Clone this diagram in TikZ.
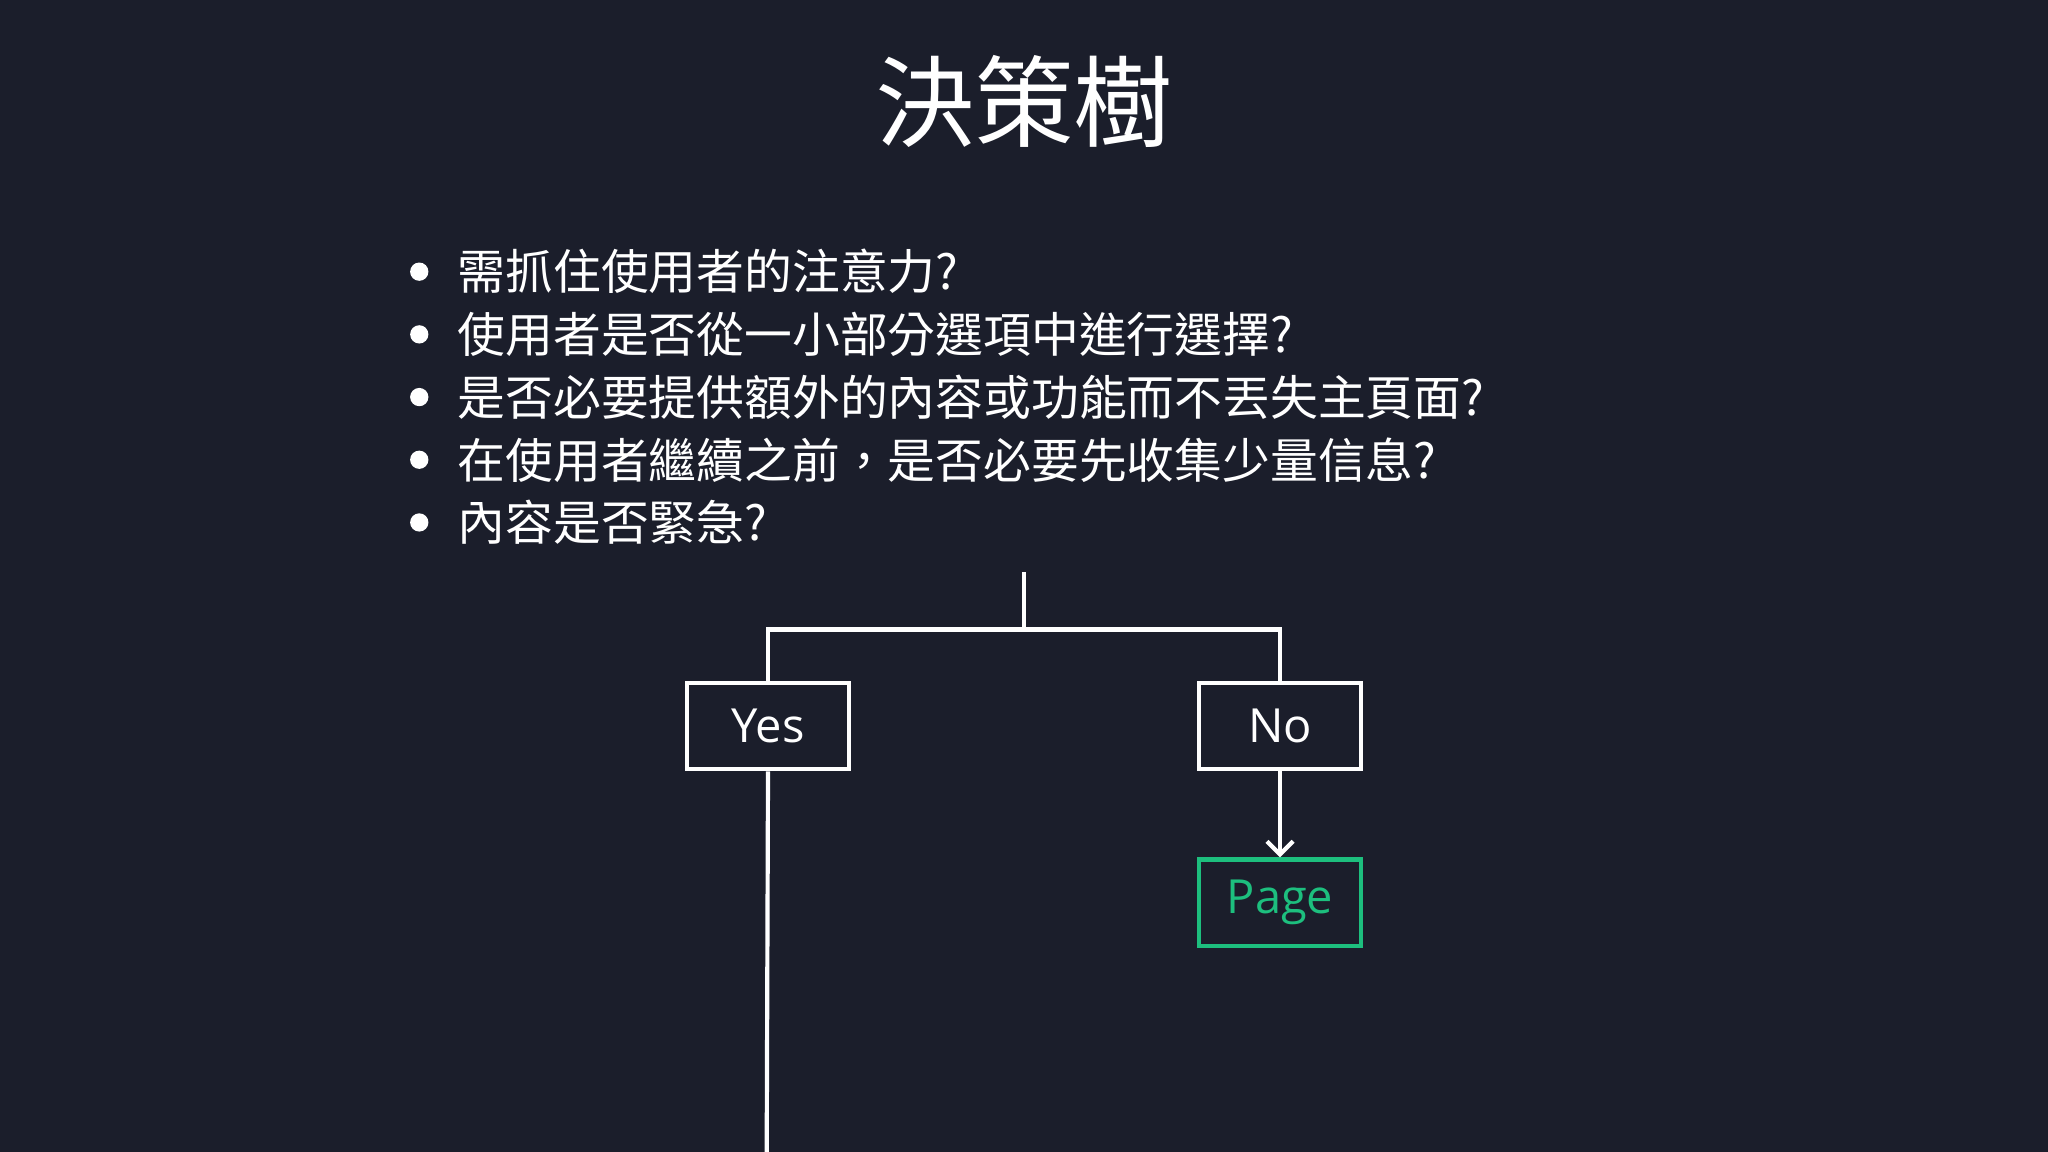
\documentclass[tikz,border=0pt]{standalone}
\usepackage{fontspec}
\setmainfont{Open Sans}
\newfontfamily\cjk{Noto Sans CJK TC}
\usetikzlibrary{arrows.meta}
\definecolor{bg}{HTML}{1B1E2B}
\definecolor{grn}{HTML}{1DBF7E}
\tikzset{
  box/.style={draw=white,line width=1.6pt,minimum width=62pt,minimum height=33pt,inner sep=0pt,text=white,font=\fontsize{18}{20}\selectfont},
  conn/.style={white,line width=1.6pt},
  bul/.style={anchor=west,text=white,font=\cjk\fontsize{18.3}{20}\selectfont,inner sep=0pt}
}
\begin{document}
\begin{tikzpicture}[x=0.5pt,y=-0.5pt]
\fill[bg] (0,0) rectangle (1568,882);
\useasboundingbox (0,0) rectangle (1568,882);
\node[text=white,font=\cjk\fontsize{38}{40}\selectfont] (title) at (784,78) {決策樹};
\foreach \y/\t [count=\i] in {208/需抓住使用者的注意力?,256/使用者是否從一小部分選項中進行選擇?,304/是否必要提供額外的內容或功能而不丟失主頁面?,352/{在使用者繼續之前，是否必要先收集少量信息?},400/內容是否緊急?}{
  \fill[white] (321,\y) circle (3.5pt);
  \node[bul] (q\i) at (350,\y) {\t};
}
\node[box] (yes) at (588,556) {Yes};
\node[box] (no) at (980,556) {No};
\node[box,draw=grn,text=grn] (page) at (980,691) {\raisebox{-2pt}{Page}};
\coordinate (top) at (784,438);
\coordinate (mid) at (784,482);
\coordinate (bot) at (587,882);
\draw[conn] (top) -- (mid);
\draw[conn] (yes.north) |- (mid) -| (no.north);
\draw[conn,-{Straight Barb[length=5pt,width=10pt]}] (no.south) -- (page.north);
\draw[conn] (yes.south) -- (bot);
\end{tikzpicture}
\end{document}
